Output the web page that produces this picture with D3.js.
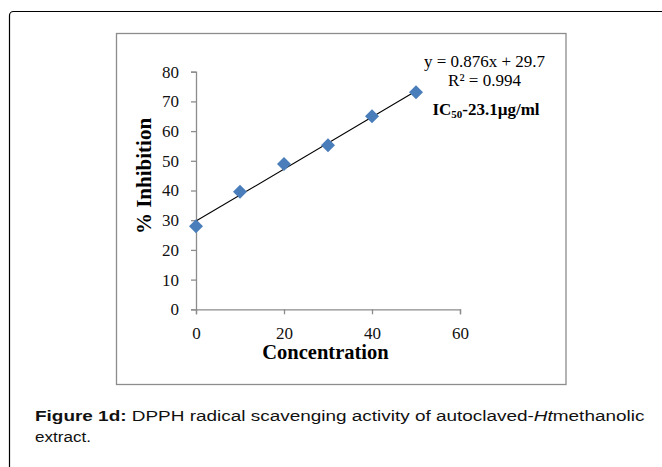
<!DOCTYPE html>
<html><head><meta charset="utf-8">
<script src="https://cdn.jsdelivr.net/npm/d3@7"></script>
<style>
html,body{margin:0;padding:0;background:#fff;}
svg{display:block;}
</style></head>
<body>
<svg id="c" width="662" height="467"></svg>
<script>
const concentration = [0, 10, 20, 30, 40, 50];
const inhibition = [28.0, 39.6, 48.9, 55.2, 65.0, 73.1];
const xTicks = [0, 20, 40, 60];
const yTicks = [0, 10, 20, 30, 40, 50, 60, 70, 80];
const trendSlope = 0.876, trendIntercept = 29.7;
const trendRange = [0, 50];
const eqText = "y = 0.876x + 29.7";
const r2Text = "R² = 0.994";
const xTitle = "Concentration", yTitle = "% Inhibition";

const svg = d3.select("#c");
const serif = "'Liberation Serif','Times New Roman',serif";
const sans = "'Liberation Sans',Arial,sans-serif";

// outer frame
svg.append("rect").attr("x", 9.5).attr("y", 11.5).attr("width", 700).attr("height", 500)
  .attr("rx", 4).attr("fill", "none").attr("stroke", "#000").attr("stroke-width", 1.2);
// inner chart box
svg.append("rect").attr("x", 116.5).attr("y", 33.5).attr("width", 449.5).attr("height", 351)
  .attr("fill", "#fff").attr("stroke", "#8c8c8c").attr("stroke-width", 1.3);

const x = d3.scaleLinear().domain([0, 60]).range([196, 460]);
const y = d3.scaleLinear().domain([0, 80]).range([309.3, 71.7]);

const axisColor = "#8c8c8c";
const gx = svg.append("g").attr("transform", `translate(0,${y(0)})`)
  .call(d3.axisBottom(x).tickValues(xTicks).tickSize(5).tickPadding(13).tickFormat(d3.format("d")));
const gy = svg.append("g").attr("transform", `translate(${x(0)},0)`)
  .call(d3.axisLeft(y).tickValues(yTicks).tickSize(5).tickPadding(12).tickFormat(d3.format("d")));
[gx, gy].forEach(g => {
  g.select(".domain").attr("stroke", axisColor).attr("stroke-width", 1.3);
  g.selectAll(".tick line").attr("stroke", axisColor).attr("stroke-width", 1.3);
  g.selectAll(".tick text").attr("font-family", serif).attr("font-size", 17).attr("fill", "#111");
});

// trendline
svg.append("line")
  .attr("x1", x(trendRange[0])).attr("y1", y(trendSlope * trendRange[0] + trendIntercept))
  .attr("x2", x(trendRange[1])).attr("y2", y(trendSlope * trendRange[1] + trendIntercept))
  .attr("stroke", "#000").attr("stroke-width", 1.1);

// diamonds
const pts = concentration.map((c, i) => [c, inhibition[i]]);
svg.append("g").selectAll("path").data(pts).join("path")
  .attr("transform", d => `translate(${x(d[0])},${y(d[1])})`)
  .attr("d", "M0,-7L7,0L0,7L-7,0Z")
  .attr("fill", "#4a7ebb");

// axis titles
svg.append("text").attr("x", 325.5).attr("y", 358.5).attr("text-anchor", "middle")
  .attr("font-family", serif).attr("font-weight", "bold").attr("font-size", 20.5).text(xTitle);
svg.append("text").attr("transform", "translate(151,176) rotate(-90)").attr("text-anchor", "middle")
  .attr("font-family", serif).attr("font-weight", "bold").attr("font-size", 21).text(yTitle);

// equation labels
svg.append("text").attr("x", 484.5).attr("y", 66.5).attr("text-anchor", "middle")
  .attr("font-family", serif).attr("font-size", 17).text(eqText);
svg.append("text").attr("x", 484.5).attr("y", 85.5).attr("text-anchor", "middle")
  .attr("font-family", serif).attr("font-size", 17).text(r2Text);
const ic = svg.append("text").attr("x", 486).attr("y", 115).attr("text-anchor", "middle")
  .attr("font-family", serif).attr("font-weight", "bold").attr("font-size", 17);
ic.append("tspan").text("IC");
ic.append("tspan").attr("font-size", 11).attr("dy", 3).text("50");
ic.append("tspan").attr("dy", -3).text("-23.1µg/ml");

// caption
function caption(parts, yPos, width) {
  const t = svg.append("text").attr("x", 0).attr("y", 0)
    .attr("font-family", sans).attr("font-size", 15.5).attr("fill", "#111");
  parts.forEach(p => {
    const s = t.append("tspan").text(p.t);
    if (p.b) s.attr("font-weight", "bold");
    if (p.i) s.attr("font-style", "italic");
  });
  const w = t.node().getComputedTextLength();
  const sx = width ? width / w : 1.1;
  t.attr("transform", `translate(35,${yPos}) scale(${sx},1)`);
}
caption([{t: "Figure 1d:", b: true}, {t: " DPPH radical scavenging activity of autoclaved-"},
  {t: "Ht", i: true}, {t: "methanolic"}], 420.5, 610);
caption([{t: "extract."}], 441.5, null);
</script>
</body></html>
